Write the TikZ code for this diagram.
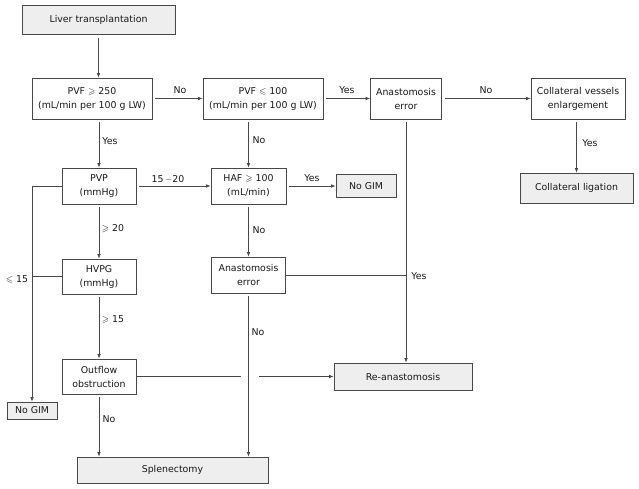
\documentclass[tikz,border=0pt]{standalone}
\usepackage{amsmath}
\usepackage{amssymb}
\usepackage{fontspec}
\setmainfont{DejaVu Sans}
\usetikzlibrary{arrows.meta}
\definecolor{boxgray}{RGB}{238,238,238}
\definecolor{linegray}{RGB}{72,72,72}

\begin{document}
\begin{tikzpicture}[x=1pt,y=-1pt,
    every node/.style={font=\fontsize{9.4}{14}\selectfont, text=black!90},
    stepbox/.style={draw=linegray, line width=0.7pt, align=center, inner sep=0pt},
    endbox/.style={stepbox, fill=boxgray},
    arr/.style={draw=linegray, line width=0.7pt, -{Latex[length=4.5pt,width=3.5pt]}, shorten <=3pt},
    plain/.style={draw=linegray, line width=0.7pt}]
    \useasboundingbox (0,0) rectangle (639,488);
    %Notation: boxes placed at the pixel centre of the reference
    \node[endbox, minimum width=153pt, minimum height=29pt] (liver) at (98.5,20) {Liver transplantation};
    \node[stepbox, minimum width=120pt, minimum height=41pt] (pvfA) at (92,98.5) {PVF $\geqslant$ 250\\(mL/min per 100 g LW)};
    \node[stepbox, minimum width=120pt, minimum height=41pt] (pvfB) at (263,98.5) {PVF $\leqslant$ 100\\(mL/min per 100 g LW)};
    \node[stepbox, minimum width=71pt, minimum height=41pt] (anaA) at (406,98.5) {Anastomosis\\error};
    \node[stepbox, minimum width=94pt, minimum height=41pt] (vessels) at (578,98.5) {Collateral vessels\\enlargement};
    \node[endbox, minimum width=113pt, minimum height=30pt] (ligation) at (576.5,188) {Collateral ligation};

    \node[stepbox, minimum width=74pt, minimum height=36pt] (pvp) at (99,186) {PVP\\(mmHg)};
    \node[stepbox, minimum width=75pt, minimum height=36pt] (haf) at (248.5,186) {HAF $\geqslant$ 100\\(mL/min)};
    \node[endbox, minimum width=60pt, minimum height=23pt] (nogimA) at (366,186) {No GIM};
    \node[stepbox, minimum width=74pt, minimum height=35pt] (hvpg) at (99,276.5) {HVPG\\(mmHg)};
    \node[stepbox, minimum width=74pt, minimum height=36pt] (anaB) at (248.5,275) {Anastomosis\\error};
    \node[stepbox, minimum width=74pt, minimum height=35pt] (outflow) at (99,376.5) {Outflow\\obstruction};
    \node[endbox, minimum width=50pt, minimum height=17pt] (nogimB) at (32,410.5) {No GIM};
    \node[endbox, minimum width=138pt, minimum height=27pt] (rea) at (403,376.5) {Re-anastomosis};
    \node[endbox, minimum width=191pt, minimum height=26pt] (splen) at (172.5,470) {Splenectomy};

    % Labels on the connectors
    \node (lNoA) at (180,90) {No};
    \node (lYesA) at (347,90) {Yes};
    \node (lNoB) at (486,90) {No};
    \node (lYesB) at (590,143) {Yes};
    \node (lYesC) at (110,141) {Yes};
    \node (lNoC) at (259,140) {No};
    \node (lRange) at (168,179) {15\,$-$20};
    \node (lYesD) at (312,178) {Yes};
    \node (lGeA) at (113,229) {$\geqslant$ 20};
    \node (lNoD) at (259,230) {No};
    \node (lLe) at (17,280) {$\leqslant$ 15};
    \node (lYesE) at (419,276) {Yes};
    \node (lGeB) at (113,320) {$\geqslant$ 15};
    \node (lNoE) at (258,332) {No};
    \node (lNoF) at (109,419) {No};

    % Gap where the line crosses the vertical one
    \coordinate (hopL) at (241,376.5);
    \coordinate (hopR) at (256,376.5);

    % Connectors
    \draw[arr] (liver.south) -- (liver.south |- pvfA.north);
    \draw[arr] (pvfA) -- (pvfB);
    \draw[arr] (pvfB) -- (anaA);
    \draw[arr] (anaA) -- (vessels);
    \draw[arr] (vessels.south -| ligation) -- (ligation);
    \draw[arr] (pvfA.south -| pvp) -- (pvp);
    \draw[arr] (pvfB.south -| haf) -- (haf);
    \draw[arr] (pvp) -- (haf);
    \draw[arr] (haf) -- (nogimA);
    \draw[arr] (pvp) -- (hvpg);
    \draw[arr] (haf) -- (anaB);
    \draw[arr] (hvpg) -- (outflow);
    \draw[arr, shorten <=0pt] (pvp.west) -| (nogimB.north);
    \draw[plain] (hvpg.west) -- (hvpg.west -| nogimB);
    \draw[arr] (outflow) -- (outflow |- splen.north);
    \draw[arr] (anaB) -- (anaB |- splen.north);
    \draw[plain] (anaB.east) -- (anaB.east -| anaA);
    \draw[arr] (anaA.south) -- (anaA.south |- rea.north);
    \draw[arr] (outflow.east) -- (hopL) (hopR) -- (rea.west);
\end{tikzpicture}
\end{document}
